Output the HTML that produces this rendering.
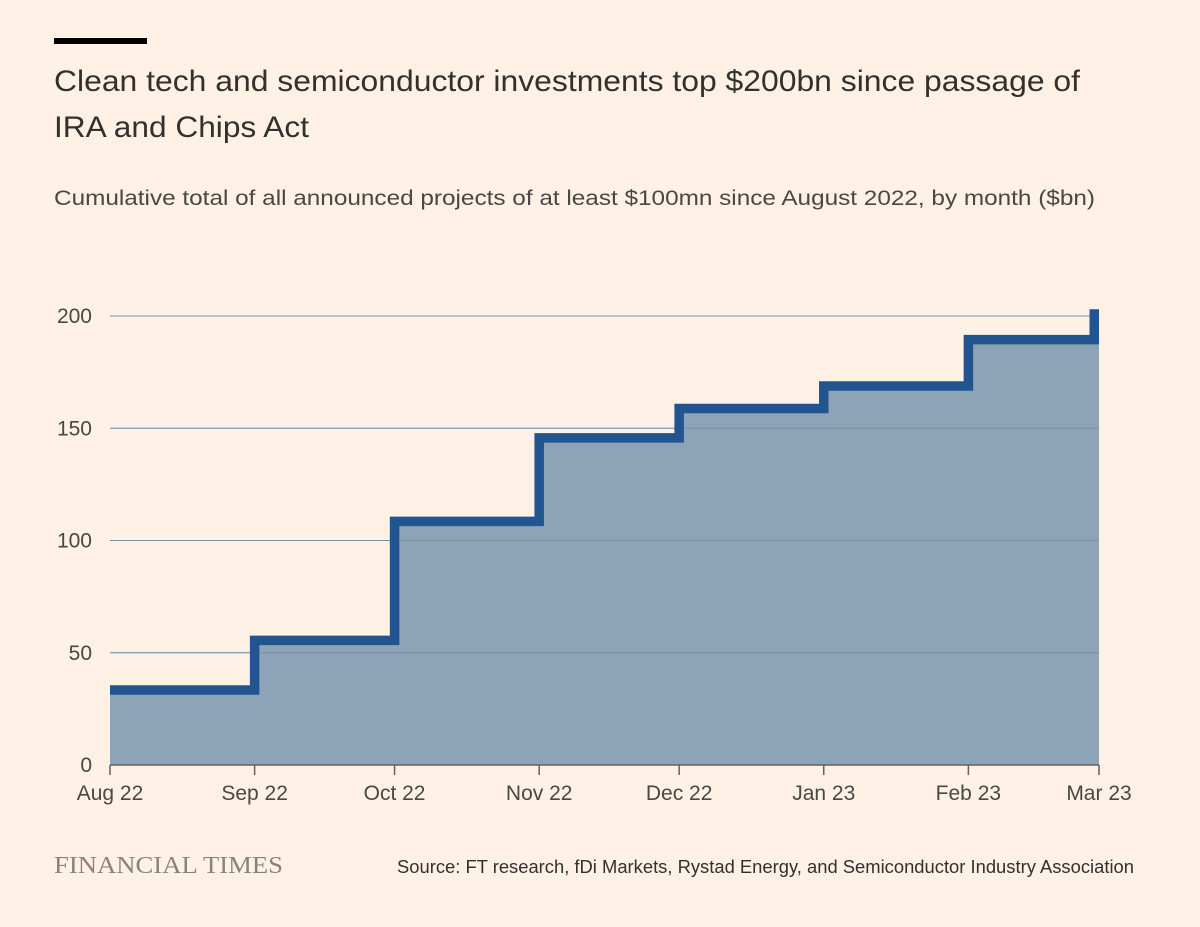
<!DOCTYPE html>
<html><head><meta charset="utf-8"><style>
body{margin:0;background:#fff1e5;width:1200px;height:922px;overflow:hidden;font-family:"Liberation Sans",sans-serif;}
</style></head><body>
<svg width="1200" height="922">
<rect x="54" y="38" width="93" height="6" fill="#000"/>
<text x="54" y="91" font-size="30" fill="#33302e" textLength="1026" lengthAdjust="spacingAndGlyphs">Clean tech and semiconductor investments top $200bn since passage of</text>
<text x="54" y="137" font-size="30" fill="#33302e" textLength="255" lengthAdjust="spacingAndGlyphs">IRA and Chips Act</text>
<text x="54" y="205" font-size="21" fill="#4a4744" textLength="1041" lengthAdjust="spacingAndGlyphs">Cumulative total of all announced projects of at least $100mn since August 2022, by month ($bn)</text>
<g id="grid"></g>
<g id="plot"></g>
<g id="xaxis"></g>
<text x="54" y="873" font-family="Liberation Serif,serif" font-size="24" fill="#8a837c" textLength="229" lengthAdjust="spacingAndGlyphs">FINANCIAL TIMES</text>
<text x="397" y="873" font-size="18" fill="#33302e" textLength="737" lengthAdjust="spacingAndGlyphs">Source: FT research, fDi Markets, Rystad Energy, and Semiconductor Industry Association</text>
</svg>
<script>
const months=["2022-08-01","2022-09-01","2022-10-01","2022-11-01","2022-12-01","2023-01-01","2023-02-01","2023-03-01"];
const monthLabels=["Aug 22","Sep 22","Oct 22","Nov 22","Dec 22","Jan 23","Feb 23","Mar 23"];
const values=[33.4,55.5,108.5,145.7,158.8,168.8,189.5,203];
const yTicks=[0,50,100,150,200];
const NS="http://www.w3.org/2000/svg";
const t0=Date.parse(months[0]),t1=Date.parse(months[months.length-1]);
const X0=110,X1=1099,Y0=765,Y200=316;
const x=d=>X0+(Date.parse(d)-t0)/(t1-t0)*(X1-X0);
const y=v=>Y0-(v/200)*(Y0-Y200);
function mk(tag,attrs,parent){const e=document.createElementNS(NS,tag);for(const k in attrs)e.setAttribute(k,attrs[k]);parent.appendChild(e);return e;}
const grid=document.getElementById('grid'),plot=document.getElementById('plot'),xa=document.getElementById('xaxis');
yTicks.forEach(v=>{
 if(v>0){const l=mk('line',{x1:110,x2:1099,y1:y(v),y2:y(v),stroke:'#ccc1b7','stroke-width':1},grid);
 
 }
 const t=mk('text',{x:92,y:y(v)+7,'text-anchor':'end','font-size':21,fill:'#4a4744'},grid);t.textContent=v;
 
 
});
let d='M'+X0+','+Y0;let ln='';
for(let i=0;i<values.length-1;i++){
 const xa_=x(months[i]),yy=y(values[i]);
 let xb=x(months[i+1]); if(i===values.length-2) xb-=4.75;
 d+=' L'+xa_+','+yy+' L'+x(months[i+1])+','+yy;
 ln+=(i===0?'M':' L')+xa_+','+yy+' L'+xb+','+yy;
}
ln+=' L'+(x(months[months.length-1])-4.75)+','+y(values[values.length-1]);
d+=' L'+X1+','+Y0+' Z';
const area=mk('path',{d:d,fill:'#8ca3b8'},plot);


yTicks.forEach(v=>{if(v>0){const l=mk('line',{x1:110,x2:1099,y1:y(v),y2:y(v),stroke:'#7590a8','stroke-width':1},plot);
 
 }});
const line=mk('path',{d:ln,fill:'none',stroke:'#22558f','stroke-width':9.5,'stroke-linejoin':'miter','stroke-linecap':'butt'},plot);


const base=mk('line',{x1:110,x2:1099,y1:Y0,y2:Y0,stroke:'#66605c','stroke-width':1.5},xa);


months.forEach((m,i)=>{
 const tk=mk('line',{x1:x(m),x2:x(m),y1:Y0,y2:Y0+10,stroke:'#66605c','stroke-width':1.5},xa);
 
 
 const t=mk('text',{x:x(m),y:800,'text-anchor':'middle','font-size':21,fill:'#4a4744'},xa);t.textContent=monthLabels[i];
 
 
});
</script>
</body></html>
